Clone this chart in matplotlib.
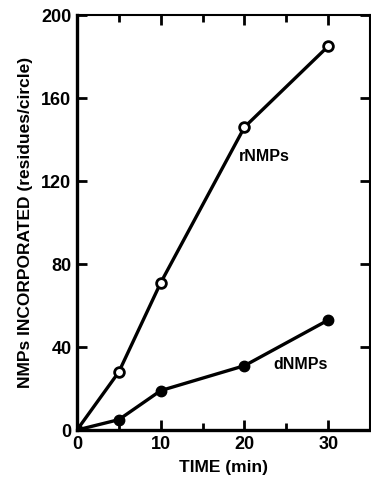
import matplotlib
matplotlib.use("Agg")
import matplotlib.pyplot as plt
from matplotlib.ticker import MultipleLocator

time_min = [0, 5, 10, 20, 30]
rnmps = [0, 28, 71, 146, 185]
dnmps = [0, 5, 19, 31, 53]

plt.rcParams['font.family'] = ['Liberation Sans', 'DejaVu Sans']
plt.rcParams['font.weight'] = 'bold'

fig = plt.figure(figsize=(3.71, 4.78), dpi=100)
ax = fig.add_axes([0.2075, 0.1004, 0.79, 0.868])

ax.plot(time_min, rnmps, color='black', lw=2.4, marker='o', ms=7,
        mfc='white', mec='black', mew=2, zorder=3)
ax.plot(time_min, dnmps, color='black', lw=2.4, marker='o', ms=7.5,
        mfc='black', mec='black', zorder=3)

ax.text(19.3, 132, 'rNMPs', fontsize=11.5, fontweight='bold', va='center', ha='left')
ax.text(23.5, 31.5, 'dNMPs', fontsize=11.5, fontweight='bold', va='center', ha='left')

ax.set_xlim(0, 35)
ax.set_ylim(0, 200)
ax.xaxis.set_major_locator(MultipleLocator(10))
ax.xaxis.set_minor_locator(MultipleLocator(5))
ax.yaxis.set_major_locator(MultipleLocator(40))
ax.tick_params(which='both', direction='in', top=True, right=True,
               labelsize=13, width=2, pad=4)
ax.tick_params(which='major', length=7)
ax.tick_params(which='minor', length=5)
for lab in ax.get_xticklabels() + ax.get_yticklabels():
    lab.set_fontweight('bold')

for s in ['left', 'bottom']:
    ax.spines[s].set_linewidth(2.4)
for s in ['top', 'right']:
    ax.spines[s].set_linewidth(1.5)

ax.set_xlabel('TIME (min)', fontsize=12.5, fontweight='bold', labelpad=5)
ax.set_ylabel('NMPs INCORPORATED (residues/circle)', fontsize=12.5,
              fontweight='bold', labelpad=6)

fig.savefig('out.png', dpi=100)
